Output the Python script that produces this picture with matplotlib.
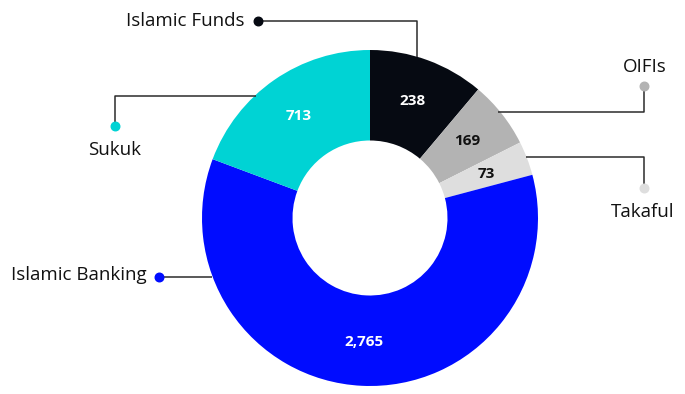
import matplotlib
matplotlib.use("Agg")
import matplotlib.pyplot as plt

plt.rcParams['font.family'] = ['Open Sans', 'DejaVu Sans']

# segments clockwise from 12 o'clock
names = ["Islamic Funds", "OIFIs", "Takaful", "Islamic Banking", "Sukuk"]
values = ["238", "169", "73", "2,765", "713"]
# wedge spans (degrees)
spans = [40.1, 23.2, 11.8, 215.4, 69.5]
colors = ["#060a12", "#b3b3b3", "#dedede", "#000cff", "#00d3d4"]
value_colors = ["white", "#111111", "#111111", "white", "white"]

W, H = 685, 394
fig = plt.figure(figsize=(W / 100, H / 100), dpi=100)
ax = fig.add_axes([0, 0, 1, 1])


def Y(y):
    # picture rows -> data y
    return H - y


cx, cy = 370, 218
R, r_in = 168, 77.5
wedges, _, autotexts = ax.pie(
    spans, colors=colors, startangle=90, counterclock=False,
    center=(cx, Y(cy)), radius=R, frame=True,
    wedgeprops=dict(width=R - r_in, edgecolor="none"),
    autopct="%1.0f", pctdistance=0.74,
)
for t, v, c in zip(autotexts, values, value_colors):
    t.set_text(v)
    t.set_color(c)
    t.set_fontsize(11)
    t.set_fontweight("bold")
ax.set_xlim(0, W)
ax.set_ylim(0, H)
ax.set_aspect("auto")
ax.axis("off")

line_kw = dict(color="#2b2b2b", lw=1.1, zorder=1, solid_capstyle="butt")
txt_kw = dict(fontsize=13.5, color="#111111")

# Islamic Funds
ax.plot([258, 417, 417], [Y(21), Y(21), Y(57)], **line_kw)
ax.scatter([258], [Y(21)], s=38, color=colors[0], zorder=3)
ax.text(245, Y(21), names[0], ha="right", va="center", **txt_kw)

# OIFIs
ax.plot([644, 644, 498], [Y(86), Y(112), Y(112)], **line_kw)
ax.scatter([644], [Y(86)], s=38, color=colors[1], zorder=3)
ax.text(645, Y(67), names[1], ha="center", va="center", **txt_kw)

# Takaful
ax.plot([644, 644, 526], [Y(188), Y(157), Y(157)], **line_kw)
ax.scatter([644], [Y(188)], s=38, color=colors[2], zorder=3)
ax.text(643, Y(212), names[2], ha="center", va="center", **txt_kw)

# Islamic Banking
ax.plot([159, 212], [Y(277), Y(277)], **line_kw)
ax.scatter([159], [Y(277)], s=38, color=colors[3], zorder=3)
ax.text(147, Y(275), names[3], ha="right", va="center", **txt_kw)

# Sukuk
ax.plot([115, 115, 256], [Y(126), Y(96), Y(96)], **line_kw)
ax.scatter([115], [Y(126)], s=38, color=colors[4], zorder=3)
ax.text(115, Y(150), names[4], ha="center", va="center", **txt_kw)

fig.savefig("out.png", dpi=100)
